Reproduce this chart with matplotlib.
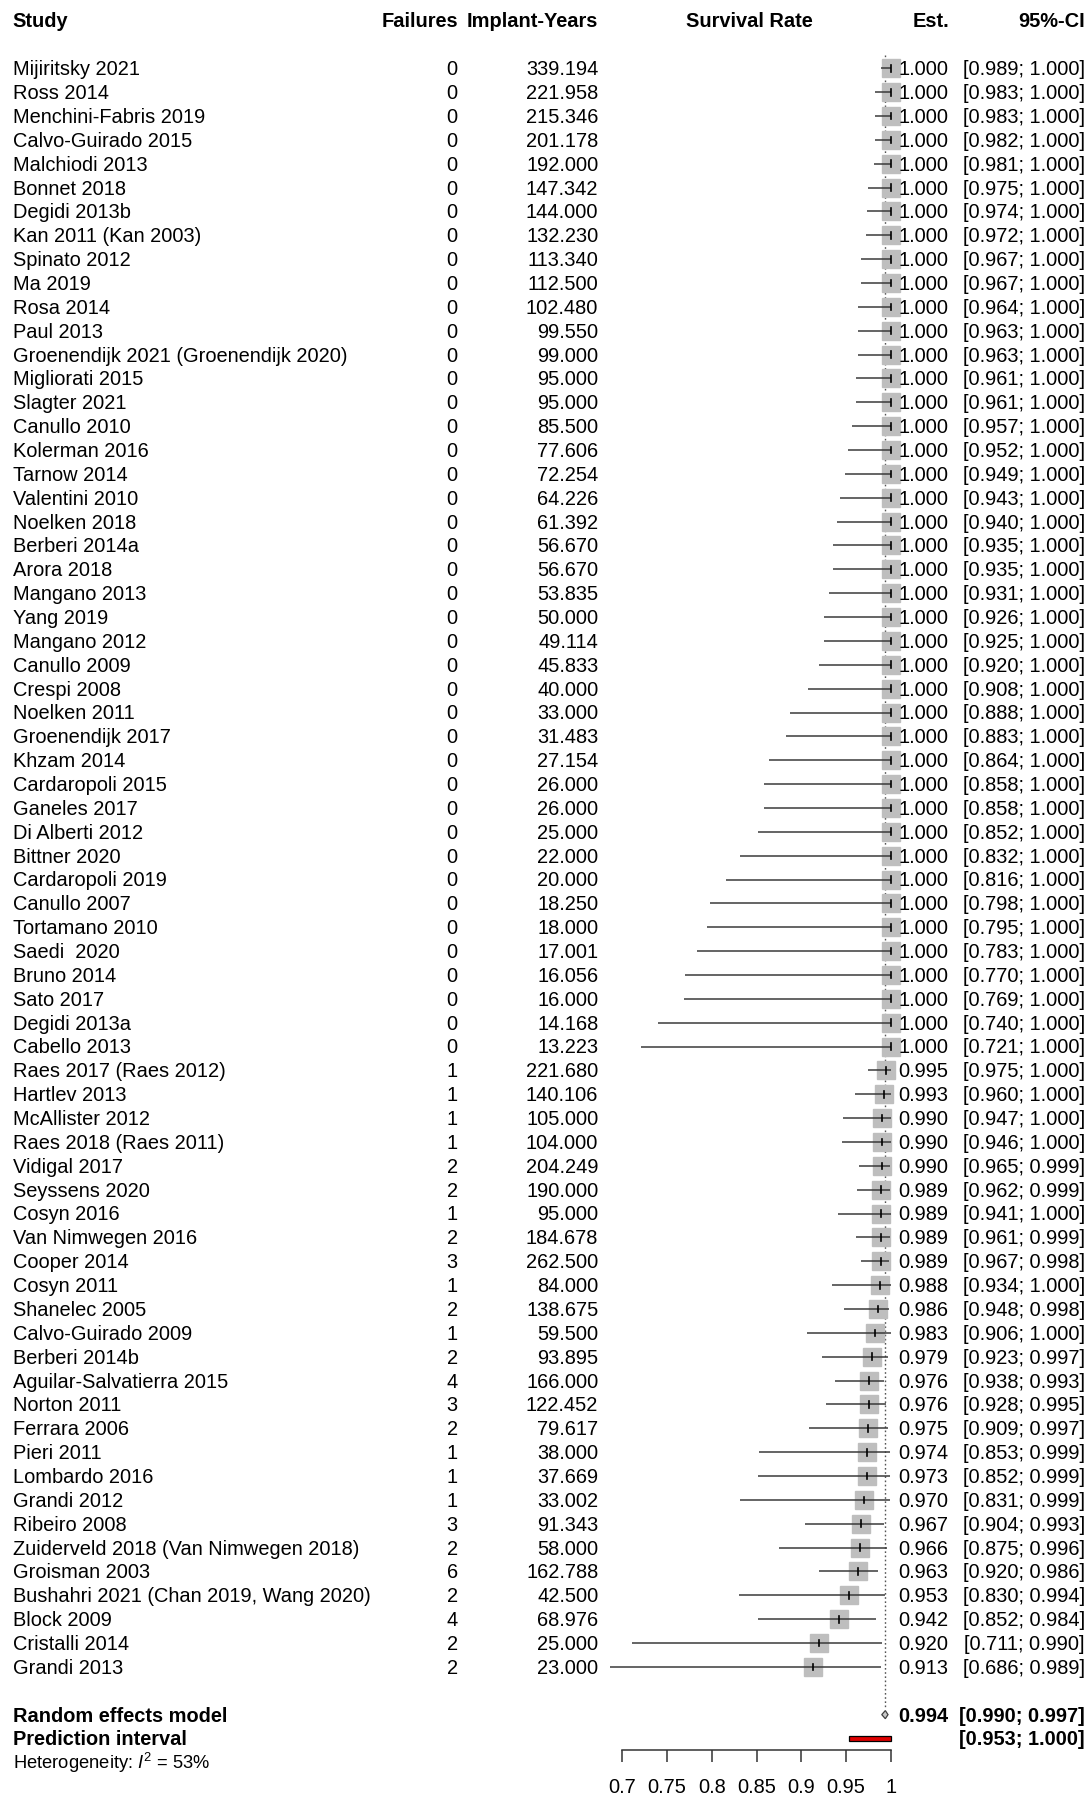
import matplotlib
matplotlib.use("Agg")
import matplotlib.pyplot as plt
import matplotlib.transforms as mtransforms
from matplotlib.patches import Polygon, Rectangle

plt.rcParams['font.family'] = ['Liberation Sans', 'DejaVu Sans']
plt.rcParams['mathtext.fontset'] = 'custom'
plt.rcParams['mathtext.rm'] = 'Liberation Sans'
plt.rcParams['mathtext.it'] = 'Liberation Sans:italic'

studies = ["Mijiritsky 2021", "Ross 2014", "Menchini-Fabris 2019", "Calvo-Guirado 2015",
           "Malchiodi 2013", "Bonnet 2018", "Degidi 2013b", "Kan 2011 (Kan 2003)",
           "Spinato 2012", "Ma 2019", "Rosa 2014", "Paul 2013",
           "Groenendijk 2021 (Groenendijk 2020)", "Migliorati 2015", "Slagter 2021",
           "Canullo 2010", "Kolerman 2016", "Tarnow 2014", "Valentini 2010", "Noelken 2018",
           "Berberi 2014a", "Arora 2018", "Mangano 2013", "Yang 2019", "Mangano 2012",
           "Canullo 2009", "Crespi 2008", "Noelken 2011", "Groenendijk 2017", "Khzam 2014",
           "Cardaropoli 2015", "Ganeles 2017", "Di Alberti 2012", "Bittner 2020",
           "Cardaropoli 2019", "Canullo 2007", "Tortamano 2010", "Saedi  2020", "Bruno 2014",
           "Sato 2017", "Degidi 2013a", "Cabello 2013", "Raes 2017 (Raes 2012)",
           "Hartlev 2013", "McAllister 2012", "Raes 2018 (Raes 2011)", "Vidigal 2017",
           "Seyssens 2020", "Cosyn 2016", "Van Nimwegen 2016", "Cooper 2014", "Cosyn 2011",
           "Shanelec 2005", "Calvo-Guirado 2009", "Berberi 2014b", "Aguilar-Salvatierra 2015",
           "Norton 2011", "Ferrara 2006", "Pieri 2011", "Lombardo 2016", "Grandi 2012",
           "Ribeiro 2008", "Zuiderveld 2018 (Van Nimwegen 2018)", "Groisman 2003",
           "Bushahri 2021 (Chan 2019, Wang 2020)", "Block 2009", "Cristalli 2014", "Grandi 2013"]

failures = [0] * 42 + [1, 1, 1, 1, 2, 2, 1, 2, 3, 1, 2, 1, 2, 4, 3, 2, 1, 1, 1, 3, 2, 6, 2, 4, 2, 2]

implant_years = [339.194, 221.958, 215.346, 201.178, 192.000, 147.342, 144.000, 132.230,
                 113.340, 112.500, 102.480, 99.550, 99.000, 95.000, 95.000, 85.500, 77.606,
                 72.254, 64.226, 61.392, 56.670, 56.670, 53.835, 50.000, 49.114, 45.833,
                 40.000, 33.000, 31.483, 27.154, 26.000, 26.000, 25.000, 22.000, 20.000,
                 18.250, 18.000, 17.001, 16.056, 16.000, 14.168, 13.223, 221.680, 140.106,
                 105.000, 104.000, 204.249, 190.000, 95.000, 184.678, 262.500, 84.000,
                 138.675, 59.500, 93.895, 166.000, 122.452, 79.617, 38.000, 37.669, 33.002,
                 91.343, 58.000, 162.788, 42.500, 68.976, 25.000, 23.000]

est = [1.000] * 42 + [0.995, 0.993, 0.990, 0.990, 0.990, 0.989, 0.989, 0.989, 0.989, 0.988,
                      0.986, 0.983, 0.979, 0.976, 0.976, 0.975, 0.974, 0.973, 0.970, 0.967,
                      0.966, 0.963, 0.953, 0.942, 0.920, 0.913]

ci_low = [0.989, 0.983, 0.983, 0.982, 0.981, 0.975, 0.974, 0.972, 0.967, 0.967, 0.964, 0.963,
          0.963, 0.961, 0.961, 0.957, 0.952, 0.949, 0.943, 0.940, 0.935, 0.935, 0.931, 0.926,
          0.925, 0.920, 0.908, 0.888, 0.883, 0.864, 0.858, 0.858, 0.852, 0.832, 0.816, 0.798,
          0.795, 0.783, 0.770, 0.769, 0.740, 0.721,
          0.975, 0.960, 0.947, 0.946, 0.965, 0.962, 0.941, 0.961, 0.967, 0.934, 0.948, 0.906,
          0.923, 0.938, 0.928, 0.909, 0.853, 0.852, 0.831, 0.904, 0.875, 0.920, 0.830, 0.852,
          0.711, 0.686]

ci_high = [1.000] * 42 + [1.000, 1.000, 1.000, 1.000, 0.999, 0.999, 1.000, 0.999, 0.998, 1.000,
                          0.998, 1.000, 0.997, 0.993, 0.995, 0.997, 0.999, 0.999, 0.999, 0.993,
                          0.996, 0.986, 0.994, 0.984, 0.990, 0.989]

pooled_est, pooled_low, pooled_high = 0.994, 0.990, 0.997
pred_low, pred_high = 0.953, 1.000
i2_text = "53%"
x_ticks = [0.7, 0.75, 0.8, 0.85, 0.9, 0.95, 1.0]
x_tick_labels = ["0.7", "0.75", "0.8", "0.85", "0.9", "0.95", "1"]

W, H = 1092, 1794
fig = plt.figure(figsize=(W / 100, H / 100), dpi=100)
ax = fig.add_axes([0, 0, 1, 1])
ax.patch.set_alpha(0)

# scale geometry
px_per_unit = (890.7 - 622.3) / 0.3
x_left = 0.7 - 622.3 / px_per_unit
x_right = 1.0 + (W - 890.7) / px_per_unit
row_h = 23.86
row0 = 68.3
ax.set_xlim(x_left, x_right)
ax.set_ylim((H - row0) / row_h, -row0 / row_h)

n = len(studies)
rows = list(range(n))
re_row = n + 1
pi_row = n + 2
het_row = n + 2.98
axis_row = n + 2.48

FS = 14.4
trans = mtransforms.blended_transform_factory(fig.transFigure, ax.transData)
def fx(px):
    return px / W

BO = 0.29  # baseline offset in rows
# Header
hy = -2.04 + BO
ax.text(fx(12.6), hy, "Study", transform=trans, ha='left', va='baseline', fontsize=FS, fontweight='bold')
ax.text(fx(458.5), hy, "Failures", transform=trans, ha='right', va='baseline', fontsize=FS, fontweight='bold')
ax.text(fx(598.5), hy, "Implant-Years", transform=trans, ha='right', va='baseline', fontsize=FS, fontweight='bold')
ax.text(fx(749), hy, "Survival Rate", transform=trans, ha='center', va='baseline', fontsize=FS, fontweight='bold')
ax.text(fx(949), hy, "Est.", transform=trans, ha='right', va='baseline', fontsize=FS, fontweight='bold')
ax.text(fx(1085), hy, "95%-CI", transform=trans, ha='right', va='baseline', fontsize=FS, fontweight='bold')

# dotted reference line at pooled estimate
ax.plot([pooled_est, pooled_est], [-0.55, re_row - 0.3], color='#555555', lw=1.0,
        linestyle=(0, (1.2, 1.8)), zorder=1)

for i in rows:
    y = i
    yb = y + BO
    ax.text(fx(13), yb, studies[i], transform=trans, ha='left', va='baseline', fontsize=FS)
    ax.text(fx(457.7), yb, f"{failures[i]}", transform=trans, ha='right', va='baseline', fontsize=FS)
    ax.text(fx(598.3), yb, f"{implant_years[i]:.3f}", transform=trans, ha='right', va='baseline', fontsize=FS)
    ax.text(fx(948.3), yb, f"{est[i]:.3f}", transform=trans, ha='right', va='baseline', fontsize=FS)
    ax.text(fx(1085), yb, f"[{ci_low[i]:.3f}; {ci_high[i]:.3f}]", transform=trans, ha='right',
            va='baseline', fontsize=FS)
    # square
    ax.plot([est[i]], [y], marker='s', markersize=13, color='#BEBEBE', markeredgecolor='#BEBEBE',
            zorder=2, clip_on=False)
    # CI line
    ax.plot([ci_low[i], ci_high[i]], [y, y], color='#3A3A3A', lw=1.1, zorder=3,
            solid_capstyle='butt')
    # estimate tick
    ax.plot([est[i], est[i]], [y - 0.14, y + 0.14], color='black', lw=1.2, zorder=4)

# Random effects model
yb = re_row + BO
ax.text(fx(13), yb, "Random effects model", transform=trans, ha='left', va='baseline', fontsize=FS, fontweight='bold')
ax.text(fx(948.3), yb, f"{pooled_est:.3f}", transform=trans, ha='right', va='baseline', fontsize=FS, fontweight='bold')
ax.text(fx(1085), yb, f"[{pooled_low:.3f}; {pooled_high:.3f}]", transform=trans, ha='right', va='baseline',
        fontsize=FS, fontweight='bold')
dh = 0.17
ax.add_patch(Polygon([(pooled_low, re_row), (pooled_est, re_row - dh), (pooled_high, re_row),
                      (pooled_est, re_row + dh)], closed=True, facecolor='#C8C8C8',
                     edgecolor='#404040', lw=0.9, zorder=5))

# Prediction interval
yb = pi_row + BO
ax.text(fx(13), yb, "Prediction interval", transform=trans, ha='left', va='baseline', fontsize=FS, fontweight='bold')
ax.text(fx(1085), yb, f"[{pred_low:.3f}; {pred_high:.3f}]", transform=trans, ha='right', va='baseline',
        fontsize=FS, fontweight='bold')
ax.add_patch(Rectangle((pred_low, pi_row - 0.1), pred_high - pred_low, 0.2, facecolor='#E00000',
                       edgecolor='black', lw=0.9, zorder=5))

# Heterogeneity
ax.text(fx(13), het_row + 0.3, r"Heterogeneity: $I^2$ = " + i2_text, transform=trans, ha='left',
        va='baseline', fontsize=13.2)

# x axis
for s in ['top', 'left', 'right']:
    ax.spines[s].set_visible(False)
ax.spines['bottom'].set_position(('data', axis_row))
ax.spines['bottom'].set_bounds(0.7, 1.0)
ax.spines['bottom'].set_linewidth(1.1)
ax.spines['bottom'].set_color('#333333')
ax.set_xticks(x_ticks)
ax.set_xticklabels(x_tick_labels, fontsize=FS)
ax.tick_params(axis='x', direction='out', length=8.4, width=1.1, color='#333333', pad=12)
ax.set_yticks([])

fig.savefig("out.png", dpi=100)
